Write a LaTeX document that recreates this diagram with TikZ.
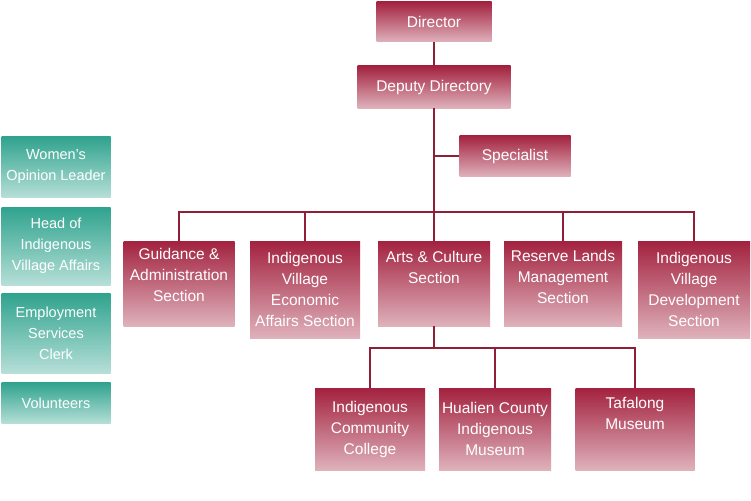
\documentclass[tikz,border=0pt]{standalone}
\usepackage{fontspec}
\setmainfont{Liberation Sans}
\definecolor{boxred}{HTML}{A3223F}
\definecolor{boxgreen}{HTML}{2FA38E}
\definecolor{linered}{HTML}{8E1F36}
\begin{document}
\begin{tikzpicture}[x=1pt, y=-1pt,
    unit/.style={top color=boxred, bottom color=boxred!35, text=white, align=center, font=\fontsize{15.5}{21}\selectfont, inner sep=1pt},
    helper/.style={top color=boxgreen, bottom color=boxgreen!35, text=white, align=center, font=\fontsize{14.5}{21}\selectfont, minimum width=109pt, inner sep=1pt},
    link/.style={draw=linered, line width=1.2pt}]
          \useasboundingbox (0,0) rectangle (751,500);
          \node[unit, minimum width=115pt, minimum height=40pt] (Dir) at (434, 22) {Director};
          \node[unit, minimum width=153pt, minimum height=42pt] (Dep) at (434, 87) {Deputy Directory};
          \node[unit, minimum width=111pt, minimum height=41pt] (Spec) at (515, 156) {Specialist};
          \node[unit, minimum width=111pt, minimum height=85pt, anchor=north] (Guid) at (179, 241) {Guidance \&\\Administration\\Section\\[-4pt]};
          \node[unit, minimum width=110pt, minimum height=97pt, anchor=north] (Econ) at (305, 241) {Indigenous\\Village\\Economic\\Affairs Section};
          \node[unit, minimum width=112pt, minimum height=85pt, anchor=north] (Arts) at (434, 241) {Arts \& Culture\\Section\\[12pt]};
          \node[unit, minimum width=118pt, minimum height=85pt, anchor=north] (Land) at (563, 241) {Reserve Lands\\Management\\Section\\[-8pt]};
          \node[unit, minimum width=112pt, minimum height=97pt, anchor=north] (Dev) at (694, 241) {Indigenous\\Village\\Development\\Section};
          \node[unit, minimum width=110pt, minimum height=82pt, anchor=north] (Coll) at (370, 388) {Indigenous\\Community\\College};
          \node[unit, minimum width=112pt, minimum height=82pt, anchor=north] (Mus) at (495, 388) {Hualien County\\Indigenous\\Museum};
          \node[unit, minimum width=119pt, minimum height=82pt, anchor=north] (Taf) at (635, 388) {Tafalong\\Museum\\[10pt]};
          \node[helper, minimum height=61pt] (Women) at (56, 167) {Women's\\Opinion Leader};
          \node[helper, minimum height=78pt] (Head) at (56, 246) {Head of\\Indigenous\\Village Affairs};
          \node[helper, minimum height=80pt] (Emp) at (56, 333) {Employment\\Services\\Clerk};
          \node[helper, minimum height=41pt] (Vol) at (56, 403) {Volunteers};
          \draw[link] (Dir) -- (Dep);
          \draw[link] (Dep.south) -- (Arts.north);
          \draw[link] (434, 156) -- (Spec.west);
          \draw[link] (Guid.north) |- (434, 212) -| (Dev.north);
          \draw[link] (Econ.north) -- (305, 212);
          \draw[link] (Land.north) -- (563, 212);
          \draw[link] (Arts.south) -- (434, 348);
          \draw[link] (Coll.north) |- (434, 348) -| (Taf.north);
          \draw[link] (Mus.north) -- (495, 348);
        \end{tikzpicture}
\end{document}
